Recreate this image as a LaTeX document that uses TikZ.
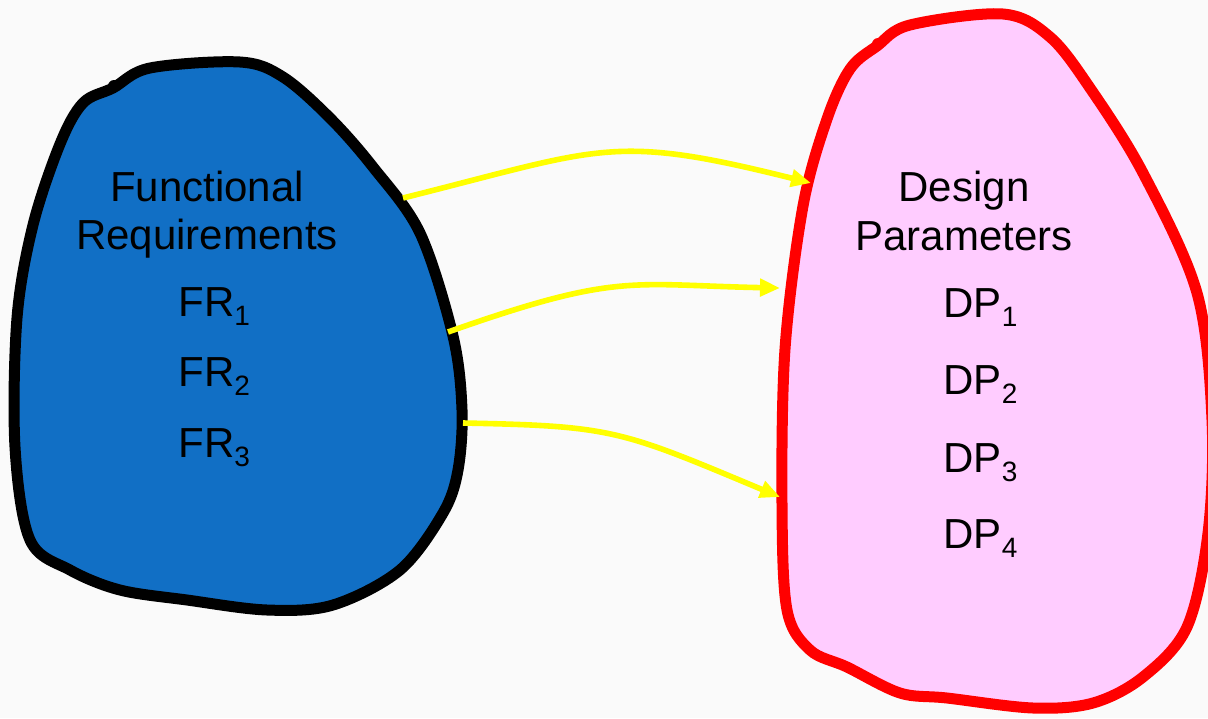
\documentclass[tikz,border=0pt]{standalone}
\usepackage{fontspec}
\setmainfont{Liberation Sans}
\usetikzlibrary{arrows.meta}

\definecolor{bgpaper}{HTML}{FAFAFA}
\definecolor{frblue}{HTML}{116FC5}
\definecolor{dppink}{HTML}{FFCCFF}
\definecolor{dpred}{HTML}{FF0000}
\definecolor{linkyellow}{HTML}{FFFF00}

% lowered, smaller index after FR / DP
\newcommand\idx[1]{\raisebox{-0.22em}{\fontsize{14}{14}\selectfont #1}}

\tikzset{
  blobline/.style={line width=5.5pt, line join=round},
  txt/.style={font=\fontsize{21}{24}\selectfont, inner sep=0pt, text=black},
  flowlink/.style={draw=linkyellow, line width=2.8pt,
    -{Triangle[length=10pt,width=8.5pt]}},
}

\begin{document}
\begin{tikzpicture}[x=0.5pt,y=-0.5pt]
\useasboundingbox (0,0) rectangle (1208,718);
\clip (0,0) rectangle (1208,718);
\fill[bgpaper] (0,0) rectangle (1208,718);

% functional domain
\draw[blobline, draw=black, fill=frblue]
  plot[smooth cycle, tension=0.55] coordinates {
    (113,88) (150,68) (240,62) (283,77) (330,118) (373,167) (420,233)
    (453,336) (462,410) (458,470) (443,513) (400,570) (333,605) (267,610)
    (187,600) (120,590) (70,570) (30,540) (15,447) (17,318) (33,225)
    (60,144) (83,103)};
\fill[black] (114,86) circle (6);

% physical domain
\draw[blobline, draw=dpred, fill=dppink]
  plot[smooth cycle, tension=0.55] coordinates {
    (877,46) (910,25) (1003,14) (1050,37) (1090,88) (1143,173)
    (1197,293) (1212,420) (1208,533) (1187,627) (1143,677) (1093,703)
    (1033,708) (947,698) (900,693) (847,667) (810,650) (787,610)
    (782,505) (785,349) (803,206) (827,119) (850,69)};
\fill[dpred] (878,44) circle (6);

% labels of the functional domain
\node[txt, anchor=base] (frhead1) at (207,201) {Functional};
\node[txt, anchor=base] (frhead2) at (207,249) {Requirements};
\node[txt, anchor=base west] (fr1) at (178,316) {FR\idx{1}};
\node[txt, anchor=base west] (fr2) at (178,386) {FR\idx{2}};
\node[txt, anchor=base west] (fr3) at (178,457) {FR\idx{3}};

% labels of the physical domain
\node[txt, anchor=base] (dphead1) at (964,201) {Design};
\node[txt, anchor=base] (dphead2) at (964,250) {Parameters};
\node[txt, anchor=base west] (dp1) at (943,317) {DP\idx{1}};
\node[txt, anchor=base west] (dp2) at (943,394) {DP\idx{2}};
\node[txt, anchor=base west] (dp3) at (943,472) {DP\idx{3}};
\node[txt, anchor=base west] (dp4) at (943,548) {DP\idx{4}};

% mapping arrows between the domains
\coordinate (m1s) at (403,198);
\coordinate (m1e) at (811,183);
\coordinate (m2s) at (448,332);
\coordinate (m2e) at (780,288);
\coordinate (m3s) at (463,423);
\coordinate (m3e) at (780,497);

\draw[flowlink] (m1s) .. controls (603,148) and (611,133) .. (m1e);
\draw[flowlink] (m2s) .. controls (618,272) and (630,285) .. (m2e);
\draw[flowlink] (m3s) .. controls (613,426) and (620,430) .. (m3e);
\end{tikzpicture}
\end{document}
